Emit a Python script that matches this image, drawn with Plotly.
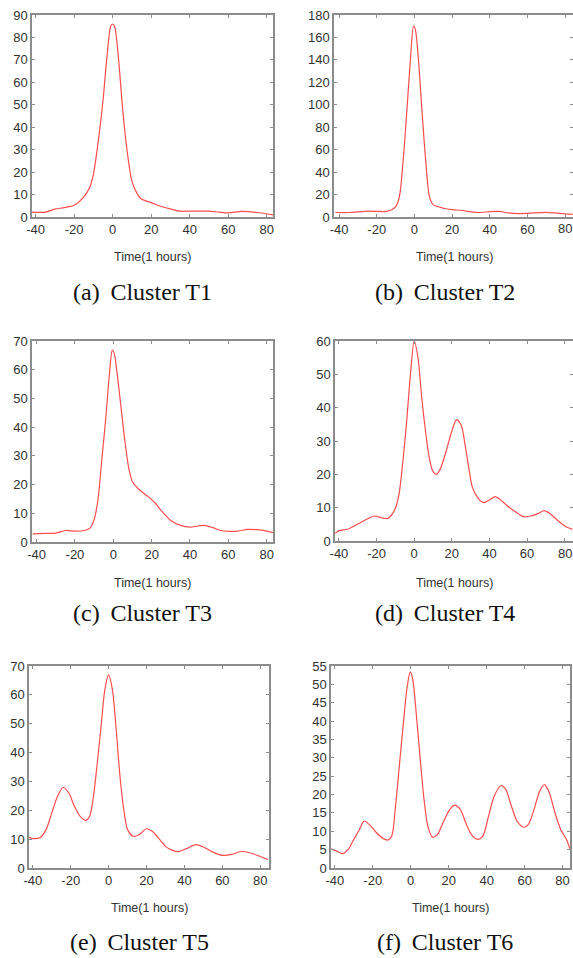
import plotly.graph_objects as go

W, H = 573, 958

# ---------------- data ----------------
t1_x = [-42, -35, -30, -25, -20, -15, -12, -10, -7, -5, -3, -1, 0, 1, 3, 5, 7, 10, 13, 15, 20, 25, 30, 35, 40, 50, 55, 60, 67, 75, 84]
t1_y = [2.2, 2.2, 3.5, 4.2, 5.2, 9, 13, 19, 37, 52, 71, 85, 86, 85, 71, 50, 33, 16, 10, 8, 6.4, 4.8, 3.6, 2.6, 2.6, 2.6, 2.2, 1.8, 2.5, 2.0, 0.9]

t2_x = [-42, -35, -30, -25, -20, -15, -12, -10, -8, -6, -4, -2, -0.5, 0.5, 2, 4, 6, 8, 10, 15, 20, 25, 30, 35, 40, 45, 50, 55, 60, 70, 75, 80, 84]
t2_y = [4, 4, 4.5, 5.2, 5, 5, 6.5, 9, 18, 50, 95, 143, 170, 167, 143, 95, 50, 18, 11, 8, 6.5, 6, 4.5, 4, 4.8, 5, 3.6, 3, 3.3, 4.2, 3.6, 2.7, 2.4]

t3_x = [-42, -35, -30, -25, -20, -15, -12, -10, -8, -6, -4, -2, -0.5, 0.5, 2, 4, 6, 8, 10, 14, 18, 22, 25, 30, 35, 40, 47, 52, 56, 60, 65, 70, 75, 80, 84]
t3_y = [2.8, 3, 3.1, 4, 3.8, 4, 4.9, 7.8, 14.7, 28.6, 42.5, 58.7, 66.8, 65.6, 58.7, 47, 35.5, 26, 21, 18, 15.9, 13.5, 10.9, 7.5, 5.8, 5.2, 5.8, 5, 4, 3.7, 3.8, 4.4, 4.3, 3.8, 3.1]

t4_x = [-42, -40, -35, -30, -25, -21, -17, -14, -12, -10, -8, -6, -4, -2, 0, 2, 4, 6, 8, 10, 12, 14, 17, 20, 22.5, 25, 27, 29, 31, 34, 37, 40, 43, 46, 50, 55, 58, 62, 66, 69, 72, 76, 80, 84]
t4_y = [2.3, 3.1, 3.6, 5.1, 6.6, 7.5, 6.9, 6.8, 7.8, 9.8, 14.3, 24, 36, 50, 60, 55, 43, 33, 25, 20.8, 20, 21.8, 27, 33, 36.4, 34.7, 29, 22, 16, 12.8, 11.5, 12.3, 13.3, 12.3, 10.3, 8.3, 7.3, 7.5, 8.3, 9.1, 8.3, 6.3, 4.5, 3.5]

t5_x = [-42, -40, -36, -33, -30, -27, -24, -21, -18, -15, -12, -10, -8, -6, -4, -2, 0, 2, 4, 6, 8, 10, 13, 16, 20, 23, 27, 30, 34, 37, 41, 46, 50, 55, 60, 65, 70, 75, 80, 84]
t5_y = [10.6, 10.2, 10.6, 13.3, 19, 24.8, 27.9, 26, 21.3, 17.9, 16.5, 17.9, 24.8, 36.3, 49, 61.7, 66.9, 61.7, 47.9, 31.7, 20.2, 13.3, 11, 11.5, 13.6, 12.7, 9.8, 7.5, 6, 5.7, 6.7, 8.1, 7.3, 5.5, 4.4, 4.7, 5.8, 5.2, 4, 2.9]

t6_x = [-42, -39, -36, -33, -30, -27, -24.5, -21, -18, -15, -12, -10, -8, -6, -4, -2, -0.3, 1, 3, 5, 7, 9, 11.5, 14, 17, 20, 23, 26, 29, 32, 35.5, 38, 41, 44, 47.5, 50, 53, 56, 59.5, 62, 65, 68, 70.5, 73, 76, 79, 82, 84]
t6_y = [5.2, 4.6, 3.9, 5, 7.8, 10.5, 12.8, 11.4, 9.6, 8.2, 7.6, 8.7, 16.9, 27.8, 38.8, 48.8, 53.4, 51.6, 41.5, 29.7, 18.7, 11.4, 8.4, 9.1, 12.3, 15.5, 17.1, 16, 12.3, 9.1, 7.8, 8.7, 14.1, 19.6, 22.4, 21.5, 16.9, 12.8, 11.1, 11.9, 16, 21, 22.7, 20.5, 15, 10.5, 7.8, 5]

captions = ["(a)\u2009 Cluster T1", "(b)\u2009 Cluster T2", "(c)\u2009 Cluster T3",
            "(d)\u2009 Cluster T4", "(e)\u2009 Cluster T5", "(f)\u2009 Cluster T6"]
x_label = "Time(1 hours)"
x_ticks = [-40, -20, 0, 20, 40, 60, 80]
y_ranges = [[0, 90], [0, 180], [0, 70], [0, 60], [0, 70], [0, 55]]
y_dticks = [10, 20, 10, 10, 10, 5]

series = [(t1_x, t1_y), (t2_x, t2_y), (t3_x, t3_y),
          (t4_x, t4_y), (t5_x, t5_y), (t6_x, t6_y)]

# ---------------- layout geometry (pixels) ----------------
# (left, right, top, bottom)
boxes = [(32, 273, 15, 217), (334, 573, 15, 217),
         (32, 273, 341, 542), (335, 573, 341, 541),
         (29, 269, 666, 868), (331, 570, 666, 868)]
x_ranges = [[-41.9, 83.3], [-42.7, 84.2], [-42.4, 83.3],
            [-42.1, 84.4], [-42.0, 84.6], [-42.0, 83.9]]
xlabel_pos = [(152, 257), (454, 257), (152, 583), (454, 583), (149, 908), (450, 908)]
caption_pos = [(142, 292), (445, 292), (142, 613), (445, 613), (139, 942), (445, 942)]
edge_panels = [1, 3]   # panels whose last x tick label sits on the page edge

fig = go.Figure()
layout = dict(width=W, height=H, margin=dict(l=0, r=0, t=0, b=0, autoexpand=False),
              plot_bgcolor="white", paper_bgcolor="white",
              showlegend=False, annotations=[])

frame_col = "#8c8c8c"
sans = "Liberation Sans"
tick_font = dict(family=sans, size=13, color="#333333")

for i, ((xs, ys), box) in enumerate(zip(series, boxes)):
    n = "" if i == 0 else str(i + 1)
    l, r, t, b = box
    fig.add_trace(go.Scatter(x=xs, y=ys, mode="lines",
                             line=dict(color="#ff4d4d", width=1.2, shape="spline", smoothing=0.8),
                             xaxis="x" + n, yaxis="y" + n, hoverinfo="skip"))
    # on edge panels the last label is written as a separate text (Plotly hides it at the edge)
    ticktext = [str(v) if (i not in edge_panels or v != x_ticks[-1]) else "" for v in x_ticks]
    layout["xaxis" + n] = dict(domain=[l / W, r / W], range=x_ranges[i], anchor="y" + n,
                               tickvals=x_ticks, ticktext=ticktext, ticks="inside", ticklen=3,
                               tickcolor=frame_col,
                               showline=True, linecolor=frame_col, linewidth=1.5, mirror="allticks",
                               showgrid=False, zeroline=False, tickfont=tick_font, automargin=False,
                               ticklabeloverflow="allow")
    layout["yaxis" + n] = dict(domain=[1 - b / H, 1 - t / H], range=y_ranges[i], anchor="x" + n,
                               dtick=y_dticks[i], tick0=0, ticks="inside", ticklen=3, tickcolor=frame_col,
                               showline=True, linecolor=frame_col, linewidth=1.5, mirror="allticks",
                               showgrid=False, zeroline=False, tickfont=tick_font, automargin=False,
                               ticklabeloverflow="allow")
    if i in edge_panels:
        layout["annotations"].append(dict(x=x_ticks[-1], xref="x" + n, y=1 - (b + 12) / H, yref="paper",
                                          text=str(x_ticks[-1]), showarrow=False,
                                          xanchor="center", yanchor="middle", font=tick_font))
    lx, ly = xlabel_pos[i]
    layout["annotations"].append(dict(x=lx / W, y=1 - ly / H, xref="paper", yref="paper",
                                      text=x_label, showarrow=False, xanchor="center", yanchor="middle",
                                      font=dict(family=sans, size=12.5, color="#333333")))
    cx, cy = caption_pos[i]
    layout["annotations"].append(dict(x=cx / W, y=1 - cy / H, xref="paper", yref="paper",
                                      text=captions[i], showarrow=False, xanchor="center", yanchor="middle",
                                      font=dict(family="Liberation Serif", size=24, color="#111111")))

fig.update_layout(**layout)
fig.write_html("out.html", config={"displayModeBar": False},
               post_script="document.body.style.margin='0';document.body.style.padding='0';"
                           "document.body.style.overflow='hidden';")
